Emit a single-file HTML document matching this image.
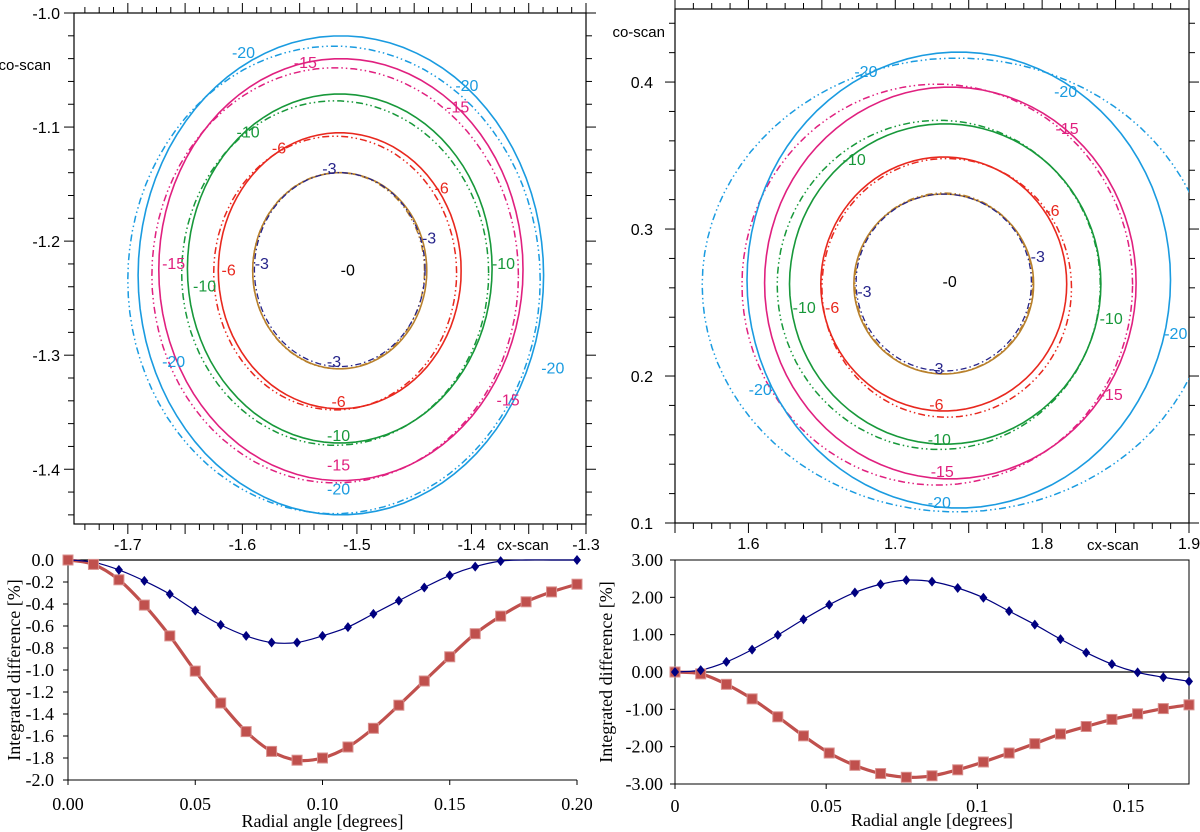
<!DOCTYPE html>
<html><head><meta charset="utf-8">
<style>
html,body{margin:0;padding:0;background:#fff;}
svg{display:block;}
.sans{font-family:"Liberation Sans",sans-serif;}
.serif{font-family:"Liberation Serif",serif;}
</style></head>
<body>
<svg id="fig" width="1200" height="832" viewBox="0 0 1200 832" xmlns="http://www.w3.org/2000/svg"></svg>
<script>
// ---------- data ----------
const leftAngles = [0,0.01,0.02,0.03,0.04,0.05,0.06,0.07,0.08,0.09,0.10,0.11,0.12,0.13,0.14,0.15,0.16,0.17,0.18,0.19,0.20];
const leftBlue = [0,-0.02,-0.09,-0.19,-0.31,-0.46,-0.59,-0.69,-0.75,-0.75,-0.69,-0.61,-0.49,-0.37,-0.25,-0.14,-0.06,-0.01,0,0,0];
const leftBlueMarked = [0,0,1,1,1,1,1,1,1,1,1,1,1,1,1,1,1,1,0,0,1];
const leftRed = [0,-0.04,-0.18,-0.41,-0.69,-1.01,-1.30,-1.56,-1.74,-1.82,-1.80,-1.70,-1.53,-1.32,-1.10,-0.88,-0.67,-0.51,-0.38,-0.29,-0.22];
const leftYTicks = [0,-0.2,-0.4,-0.6,-0.8,-1.0,-1.2,-1.4,-1.6,-1.8,-2.0];
const leftYLabels = ["0.0","-0.2","-0.4","-0.6","-0.8","-1.0","-1.2","-1.4","-1.6","-1.8","-2.0"];
const leftXTicks = [0,0.05,0.10,0.15,0.20];
const leftXLabels = ["0.00","0.05","0.10","0.15","0.20"];

const rightAngles = [0,0.0085,0.017,0.0255,0.034,0.0425,0.051,0.0595,0.068,0.0765,0.085,0.0935,0.102,0.1105,0.119,0.1275,0.136,0.1445,0.153,0.1615,0.17];
const rightBlue = [0,0.05,0.27,0.60,0.99,1.41,1.80,2.13,2.35,2.46,2.42,2.25,1.99,1.63,1.27,0.88,0.52,0.21,-0.01,-0.14,-0.25];
const rightRed = [0,-0.05,-0.33,-0.72,-1.20,-1.71,-2.17,-2.50,-2.72,-2.82,-2.78,-2.62,-2.41,-2.17,-1.92,-1.66,-1.46,-1.27,-1.12,-0.98,-0.88];
const rightYTicks = [3,2,1,0,-1,-2,-3];
const rightYLabels = ["3.00","2.00","1.00","0.00","-1.00","-2.00","-3.00"];
const rightXTicks = [0,0.05,0.1,0.15];
const rightXLabels = ["0","0.05","0.1","0.15"];

// contour levels: [cx, cy, rx, ry] in data units (solid / dash-dot)
const contourLevels = ["-3","-6","-10","-15","-20"];
const contourColors = ["#b8802c","#e8281e","#17983a","#e0207f","#1a9be0"];
const leftSolid = [[-1.515,-1.226,0.076,0.086],[-1.515,-1.226,0.106,0.121],[-1.515,-1.224,0.133,0.153],[-1.514,-1.225,0.159,0.185],[-1.514,-1.230,0.177,0.210]];
const leftDash  = [[-1.516,-1.226,0.075,0.086],[-1.519,-1.228,0.106,0.120],[-1.519,-1.228,0.134,0.151],[-1.519,-1.230,0.160,0.182],[-1.520,-1.234,0.180,0.205]];
const rightSolid = [[1.733,0.2626,0.0612,0.0612],[1.733,0.2626,0.0837,0.0864],[1.734,0.2626,0.106,0.109],[1.7375,0.2633,0.1265,0.1333],[1.7432,0.2653,0.1442,0.1551]];
const rightDash  = [[1.733,0.2630,0.0605,0.0615],[1.735,0.2600,0.0850,0.0880],[1.7296,0.2620,0.110,0.112],[1.7286,0.2622,0.133,0.1364],[1.742,0.2619,0.1735,0.1544]];
const leftLabels = [["-20",-1.599,-1.034],["-20",-1.404,-1.063],["-20",-1.660,-1.305],["-20",-1.329,-1.311],["-20",-1.516,-1.417],
  ["-15",-1.545,-1.043],["-15",-1.412,-1.082],["-15",-1.660,-1.219],["-15",-1.368,-1.339],["-15",-1.516,-1.396],
  ["-10",-1.595,-1.104],["-10",-1.633,-1.239],["-10",-1.372,-1.219],["-10",-1.516,-1.370],
  ["-6",-1.568,-1.118],["-6",-1.426,-1.153],["-6",-1.612,-1.225],["-6",-1.516,-1.340],
  ["-3",-1.524,-1.136],["-3",-1.437,-1.197],["-3",-1.583,-1.219],["-3",-1.520,-1.305],["-0",-1.508,-1.225]];
const rightLabels = [["-20",1.680,0.4075],["-20",1.816,0.3939],["-20",1.891,0.2293],["-20",1.608,0.1912],["-20",1.730,0.1143],
  ["-15",1.817,0.3687],["-15",1.847,0.1878],["-15",1.732,0.1354],
  ["-10",1.672,0.3476],["-10",1.638,0.2469],["-10",1.847,0.2395],["-10",1.730,0.1571],
  ["-6",1.807,0.3129],["-6",1.657,0.2469],["-6",1.728,0.1810],
  ["-3",1.797,0.2816],["-3",1.679,0.2578],["-3",1.728,0.2054],["-0",1.737,0.2646]];

// ---------- helpers ----------
const NS="http://www.w3.org/2000/svg";
const svg=document.getElementById('fig');
function mk(tag,attrs,parent){const e=document.createElementNS(NS,tag);for(const k in attrs)e.setAttribute(k,attrs[k]);(parent||svg).appendChild(e);return e;}
function txt(s,x,y,attrs,parent){const t=mk('text',Object.assign({x:x,y:y},attrs),parent);t.textContent=s;return t;}
function smooth(pts){let d=`M${pts[0][0]},${pts[0][1]}`;for(let i=0;i<pts.length-1;i++){const p0=pts[Math.max(0,i-1)],p1=pts[i],p2=pts[i+1],p3=pts[Math.min(pts.length-1,i+2)];
 const c1=[p1[0]+(p2[0]-p0[0])/6,p1[1]+(p2[1]-p0[1])/6],c2=[p2[0]-(p3[0]-p1[0])/6,p2[1]-(p3[1]-p1[1])/6];d+=` C${c1[0]},${c1[1]} ${c2[0]},${c2[1]} ${p2[0]},${p2[1]}`;}return d;}
const defs=mk('defs',{});

// ---------- contour panel ----------
function contourPanel(o){
 const g=mk('g',{});
 
 
 const X=v=>o.px0+(v-o.x0)/(o.x1-o.x0)*(o.px1-o.px0);
 const Y=v=>o.py0+(v-o.y0)/(o.y1-o.y0)*(o.py1-o.py0);
 const cp=mk('clipPath',{id:o.name+'-clip'},defs);
 mk('rect',{x:o.px0,y:o.py1,width:o.px1-o.px0,height:o.py0-o.py1},cp);
 const fr=mk('rect',{x:o.px0,y:o.py1,width:o.px1-o.px0,height:o.py0-o.py1,fill:'none',stroke:'#000','stroke-width':1.2},g);
 
 const nx=Math.round((o.x1-o.x0)/o.xminor)+1;
 const xs0=Math.ceil(o.x0/o.xminor-1e-6);
 for(let i=xs0;i*o.xminor<=o.x1+1e-9;i++){const v=i*o.xminor;const major=Math.abs(v/o.xmajor-Math.round(v/o.xmajor))<1e-6;const L=major?10:6;const x=X(v);
  mk('line',{x1:x,y1:o.py0,x2:x,y2:o.py0+L,stroke:'#000','stroke-width':1},g);mk('line',{x1:x,y1:o.py1,x2:x,y2:o.py1-L,stroke:'#000','stroke-width':1},g);}
 const ys0=Math.ceil(o.y0/o.yminor-1e-6);
 for(let i=ys0;i*o.yminor<=o.y1+1e-9;i++){const v=i*o.yminor;const major=Math.abs(v/o.ymajor-Math.round(v/o.ymajor))<1e-6;const L=major?10:6;const y=Y(v);
  mk('line',{x1:o.px0,y1:y,x2:o.px0-L,y2:y,stroke:'#000','stroke-width':1},g);mk('line',{x1:o.px1,y1:y,x2:o.px1+L,y2:y,stroke:'#000','stroke-width':1},g);}
 o.xticks.forEach((v,i)=>{const t=txt(o.xlabels[i],X(v),o.py0+26,{'font-size':16,'text-anchor':'middle',class:'sans'},g);});
 o.yticks.forEach((v,i)=>{const t=txt(o.ylabels[i],o.px0-o.ylabOff,Y(v)+6,{'font-size':16,'text-anchor':'end',class:'sans'},g);});
 const xt=txt('cx-scan',o.xtitle[0],o.xtitle[1],{'font-size':15,class:'sans'},g);
 const yt=txt('co-scan',o.ytitle[0],o.ytitle[1],{'font-size':15,class:'sans','text-anchor':'end'},g);
 function ell(p){const pts=[];for(let k=0;k<=90;k++){const a=k/90*2*Math.PI;pts.push([X(p[0]+p[2]*Math.cos(a)),Y(p[1]+p[3]*Math.sin(a))]);}return 'M'+pts.map(q=>q[0].toFixed(1)+','+q[1].toFixed(1)).join(' L')+'Z';}
 const cg=mk('g',{'clip-path':`url(#${o.name}-clip)`},g);
 contourLevels.forEach((lv,i)=>{
  const d=mk('path',{d:ell(o.dash[i]),fill:'none',stroke:contourColors[i],'stroke-width':1.5,'stroke-dasharray':'7 3 1.5 3 1.5 3'},cg);
  
  const s=mk('path',{d:ell(o.solid[i]),fill:'none',stroke:contourColors[i],'stroke-width':1.6},cg);
  
  if(i===0){const n=mk('path',{d:ell([o.solid[0][0],o.solid[0][1]+0.001,o.solid[0][2]-0.0015,o.solid[0][3]-0.001]),fill:'none',stroke:'#26248a','stroke-width':1.3,'stroke-dasharray':'6 3 1.5 3'},cg);
   }
 });
 const colorOf={"-3":"#26248a","-6":"#e8281e","-10":"#17983a","-15":"#e0207f","-20":"#1a9be0","-0":"#000"};
 o.labels.forEach(l=>{const t=txt(l[0],X(l[1]),Y(l[2])+6,{'font-size':16,'text-anchor':'middle',fill:colorOf[l[0]],class:'sans'},cg);});
}
contourPanel({name:'left-contour-plot',px0:74,px1:586,py0:524,py1:13,x0:-1.747,x1:-1.3,y0:-1.448,y1:-1.0,xminor:0.0125,xmajor:0.05,yminor:0.02,ymajor:0.1,
 xticks:[-1.7,-1.6,-1.5,-1.4,-1.3],xlabels:["-1.7","-1.6","-1.5","-1.4","-1.3"],yticks:[-1.0,-1.1,-1.2,-1.3,-1.4],ylabels:["-1.0","-1.1","-1.2","-1.3","-1.4"],
 solid:leftSolid,dash:leftDash,labels:leftLabels,xtitle:[497,550],ytitle:[51,70],ylabOff:14});
contourPanel({name:'right-contour-plot',px0:675,px1:1189,py0:523,py1:9,x0:1.55,x1:1.9,y0:0.1,y1:0.4497,xminor:0.0125,xmajor:0.05,yminor:0.02,ymajor:0.1,
 xticks:[1.6,1.7,1.8,1.9],xlabels:["1.6","1.7","1.8","1.9"],yticks:[0.1,0.2,0.3,0.4],ylabels:["0.1","0.2","0.3","0.4"],
 solid:rightSolid,dash:rightDash,labels:rightLabels,xtitle:[1087,550],ytitle:[665,37],ylabOff:22});

// ---------- line panels ----------
function linePanel(o){
 const g=mk('g',{});
 
 
 const X=v=>o.px0+(v-o.x0)/(o.x1-o.x0)*(o.px1-o.px0);
 const Y=v=>o.py0+(v-o.y0)/(o.y1-o.y0)*(o.py1-o.py0);
 if(o.box){const r=mk('rect',{x:o.px0,y:o.py1,width:o.px1-o.px0,height:o.py0-o.py1,fill:'none',stroke:'#000','stroke-width':1},g);}
 else{mk('line',{x1:o.px0,y1:o.py1,x2:o.px0,y2:o.py0,stroke:'#000','stroke-width':1},g);mk('line',{x1:o.px0,y1:o.py0,x2:o.px1,y2:o.py0,stroke:'#000','stroke-width':1},g);}
 const z=mk('line',{x1:o.px0,y1:Y(0),x2:o.px1,y2:Y(0),stroke:'#000','stroke-width':1.3},g);
 o.yticks.forEach((v,i)=>{mk('line',{x1:o.px0-5,y1:Y(v),x2:o.px0,y2:Y(v),stroke:'#000'},g);
  const t=txt(o.ylabels[i],o.px0-o.ylabOff,Y(v)+6,{'font-size':18,'text-anchor':'end',class:'serif'},g);});
 o.xticks.forEach((v,i)=>{mk('line',{x1:X(v),y1:o.py0,x2:X(v),y2:o.py0+5,stroke:'#000'},g);
  const t=txt(o.xlabels[i],X(v),o.py0+o.xlabDy,{'font-size':18,'text-anchor':'middle',class:'serif'},g);});
 const xt=txt('Radial angle [degrees]',(o.px0+o.px1)/2,o.py0+o.xtitDy,{'font-size':18,'text-anchor':'middle',class:'serif'},g);
 const yt=txt('Integrated difference [%]',0,0,{'font-size':18,'text-anchor':'middle',class:'serif',transform:`translate(${o.ytx},${(o.py0+o.py1)/2}) rotate(-90)`},g);
 const rp=o.xs.map((x,i)=>[X(x),Y(o.red[i])]);
 const rl=mk('path',{d:smooth(rp),fill:'none',stroke:'#c0504d','stroke-width':3.2},g);
 const bp=o.xs.map((x,i)=>[X(x),Y(o.blue[i])]);
 const bl=mk('path',{d:smooth(bp),fill:'none',stroke:'#000080','stroke-width':1.2},g);
 o.xs.forEach((x,i)=>{const m=mk('rect',{x:X(x)-5,y:Y(o.red[i])-5,width:10,height:10,fill:'#c0504d',stroke:'#d98f8d','stroke-width':1},g);});
 o.xs.forEach((x,i)=>{if(o.marked&&!o.marked[i])return;const cx=X(x),cy=Y(o.blue[i]);const m=mk('path',{d:`M${cx},${cy-5}L${cx+4},${cy}L${cx},${cy+5}L${cx-4},${cy}Z`,fill:'#000080'},g);});
}
linePanel({name:'left-difference-chart',px0:68,px1:577,py0:780,py1:560,x0:0,x1:0.2,y0:-2.0,y1:0.0,xs:leftAngles,red:leftRed,blue:leftBlue,marked:leftBlueMarked,
 yticks:leftYTicks,ylabels:leftYLabels,xticks:leftXTicks,xlabels:leftXLabels,box:false,ytx:20,ylabOff:14,xlabDy:30,xtitDy:47});
linePanel({name:'right-difference-chart',px0:675,px1:1189,py0:784,py1:560,x0:0,x1:0.17,y0:-3,y1:3,xs:rightAngles,red:rightRed,blue:rightBlue,marked:null,
 yticks:rightYTicks,ylabels:rightYLabels,xticks:rightXTicks,xlabels:rightXLabels,box:true,ytx:612,ylabOff:12,xlabDy:28,xtitDy:42});
</script>
</body></html>
